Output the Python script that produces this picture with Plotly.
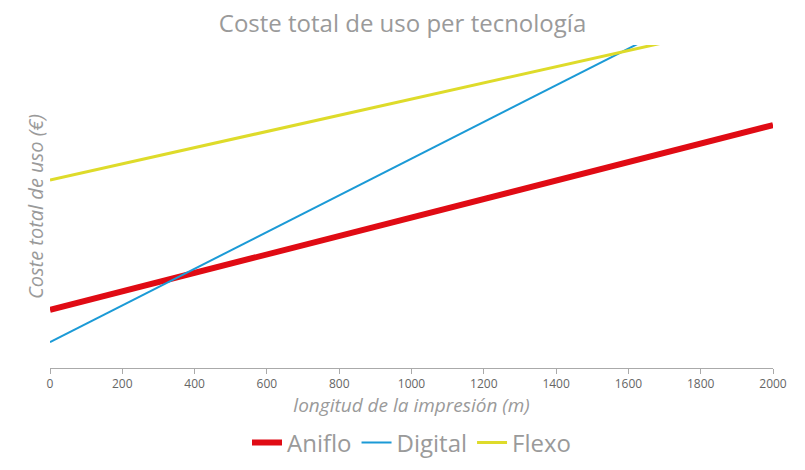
import plotly.graph_objects as go

# longitud de la impresion (m)
longitud = [0, 2000]

# coste total de uso (unidades relativas, el eje Y no muestra valores)
aniflo = [18.0, 75.2]
digital = [8.0, 121.6]
flexo = [58.2, 108.3]

series = [
    ("Aniflo", aniflo, "#e00b14", 6),
    ("Digital", digital, "#1b9ad6", 2),
    ("Flexo", flexo, "#dedb2a", 3),
]

fig = go.Figure()
for name, ys, color, width in series:
    fig.add_trace(go.Scatter(x=longitud, y=ys, mode="lines", name=name,
                             line=dict(color=color, width=width)))

gris = "#9a9a9a"
# la pagina deja 8px de margen alrededor, por eso el tamano es 789x454
fig.update_layout(
    width=789, height=454,
    margin=dict(l=42, r=24, t=37, b=94, autoexpand=False),
    paper_bgcolor="white", plot_bgcolor="white",
    font=dict(family="Open Sans, sans-serif", color=gris),
    title=dict(text="Coste total de uso per tecnología", x=0.5, xanchor="center",
               y=0.965, yanchor="middle", font=dict(size=24, color=gris)),
    showlegend=True,
    legend=dict(orientation="h", x=0.5, xanchor="center", y=-0.232, yanchor="middle",
                font=dict(size=24, color=gris), itemwidth=30),
    xaxis=dict(range=[0, 2000], dtick=200, showgrid=False, zeroline=False,
               showline=True, linecolor="#aaaaaa", linewidth=1, automargin=False,
               ticks="outside", ticklen=5, tickcolor="#aaaaaa",
               tickfont=dict(size=12, color="#666666"),
               title=dict(text="<i>longitud de la impresión (m)</i>",
                          font=dict(size=19, color=gris), standoff=5)),
    yaxis=dict(range=[0, 100], showgrid=False, zeroline=False, showline=False,
               showticklabels=False, ticks="", automargin=False,
               title=dict(text="<i>Coste total de uso (€)</i>",
                          font=dict(size=20, color=gris), standoff=0)),
)

fig.write_html("out.html")
